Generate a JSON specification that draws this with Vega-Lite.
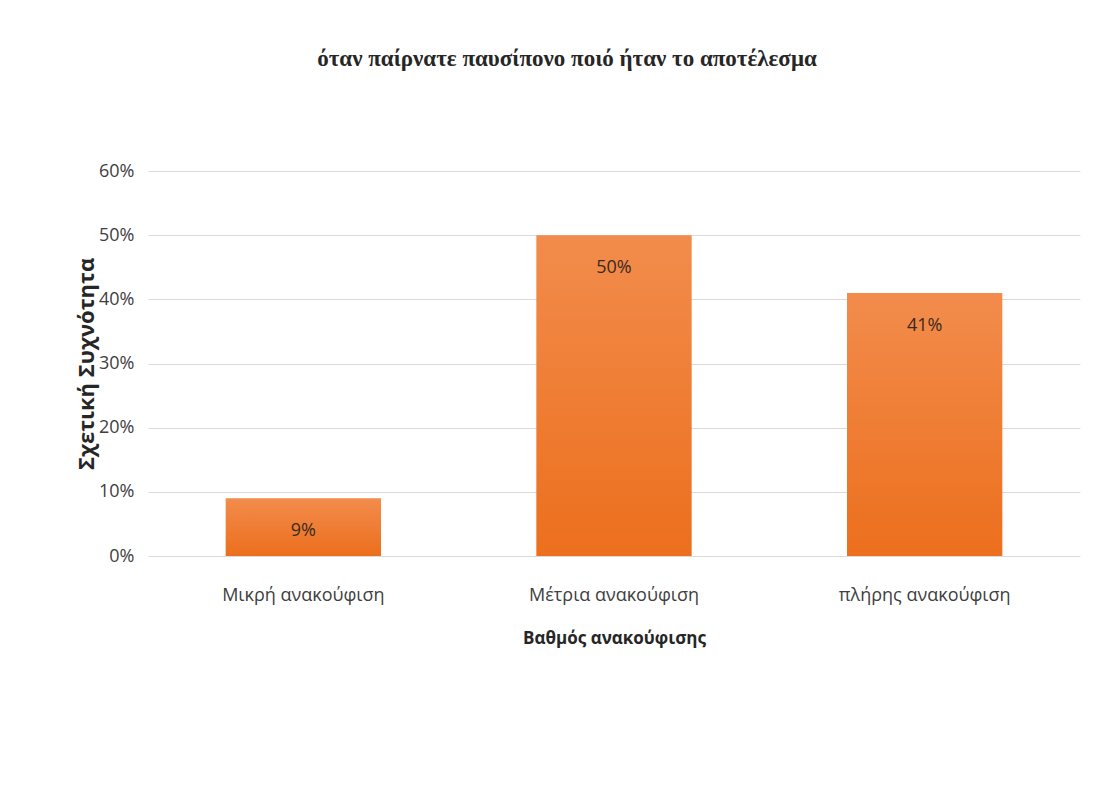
{
  "$schema": "https://vega.github.io/schema/vega-lite/v6.json",
  "width": 932,
  "height": 385,
  "autosize": "none",
  "padding": {"left": 148, "top": 171, "right": 36, "bottom": 231},
  "background": "white",
  "title": {
    "text": "όταν παίρνατε παυσίπονο ποιό ήταν το αποτέλεσμα",
    "font": "Liberation Serif",
    "fontSize": 23,
    "fontWeight": "bold",
    "color": "#262626",
    "anchor": "middle",
    "dx": -47,
    "offset": 91
  },
  "data": {
    "values": [
      {"category": "Μικρή ανακούφιση", "value": 0.09},
      {"category": "Μέτρια ανακούφιση", "value": 0.50},
      {"category": "πλήρης ανακούφιση", "value": 0.41}
    ]
  },
  "encoding": {
    "x": {
      "field": "category",
      "type": "nominal",
      "sort": null,
      "scale": {"paddingInner": 0.5, "paddingOuter": 0.25},
      "axis": {
        "title": "Βαθμός ανακούφισης",
        "labelAngle": 0,
        "labelFont": "Open Sans",
        "labelFontSize": 18,
        "labelColor": "#404040",
        "labelPadding": 30,
        "ticks": false,
        "domain": false,
        "titleFont": "Open Sans",
        "titleFontSize": 17,
        "titleFontWeight": "bold",
        "titleColor": "#262626",
        "titlePadding": 26
      }
    },
    "y": {
      "field": "value",
      "type": "quantitative",
      "scale": {"domain": [0, 0.6]},
      "axis": {
        "title": "Σχετική Συχνότητα",
        "format": ".0%",
        "values": [0, 0.1, 0.2, 0.3, 0.4, 0.5, 0.6],
        "labelFont": "Open Sans",
        "labelFontSize": 18,
        "labelColor": "#404040",
        "labelPadding": 14,
        "ticks": false,
        "domain": false,
        "gridColor": "#d9d9d9",
        "titleFont": "Open Sans",
        "titleFontSize": 22,
        "titleFontWeight": "bold",
        "titleColor": "#262626",
        "titleX": -50
      }
    }
  },
  "layer": [
    {
      "mark": {
        "type": "bar",
        "color": {
          "gradient": "linear",
          "x1": 0, "y1": 0, "x2": 0, "y2": 1,
          "stops": [
            {"offset": 0, "color": "#f28c4c"},
            {"offset": 1, "color": "#ec6f1d"}
          ]
        }
      }
    },
    {
      "mark": {
        "type": "text",
        "baseline": "middle",
        "dy": 33,
        "font": "Open Sans",
        "fontSize": 18,
        "color": "#3a2a20"
      },
      "encoding": {
        "text": {"field": "value", "type": "quantitative", "format": ".0%"}
      }
    }
  ],
  "config": {"view": {"stroke": null}}
}
